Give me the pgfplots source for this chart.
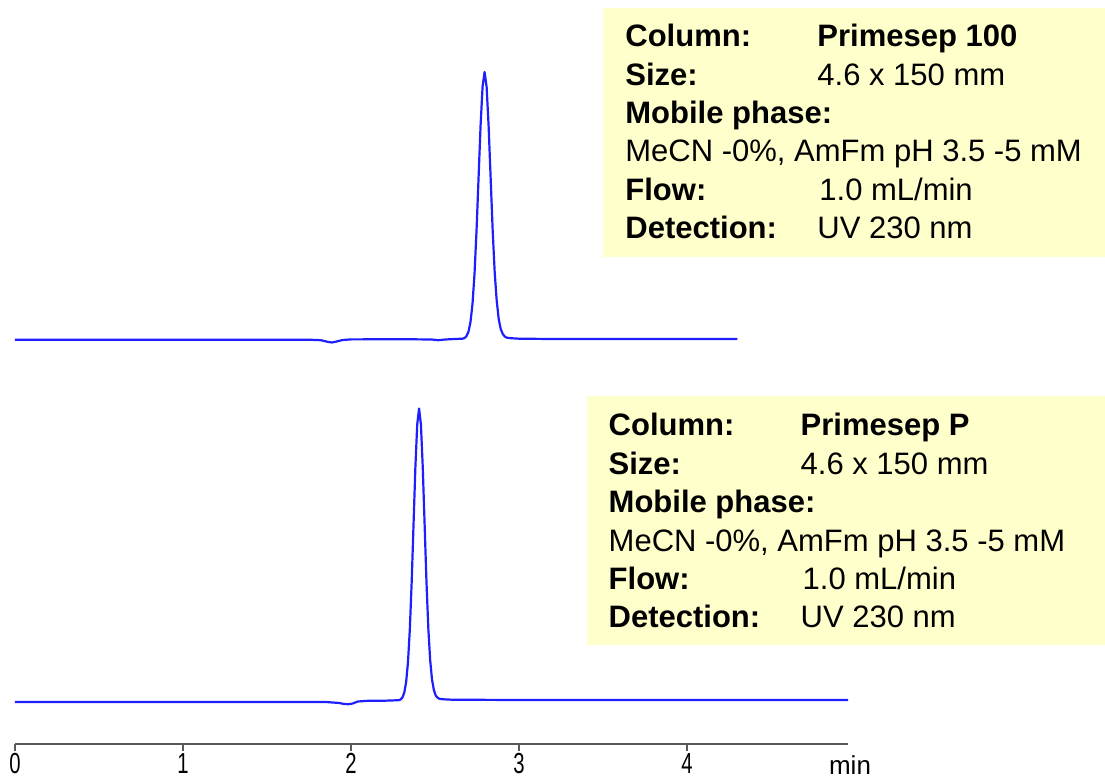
\documentclass[border=0pt]{standalone}
\usepackage{pgfplots}
\pgfplotsset{compat=1.18}
\usepackage{fontspec}
\setmainfont{Liberation Sans}
\definecolor{trace}{RGB}{30,30,255}
\definecolor{boxfill}{RGB}{255,255,204}
\definecolor{axgray}{RGB}{90,90,90}
\newcommand{\boxfont}{\fontsize{15.5}{19.2}\selectfont}
\begin{document}
\begin{tikzpicture}[x=1pt,y=1pt]
\path[use as bounding box] (0,0) rectangle (552.5,389);
% info boxes
\fill[boxfill] (301.65,260.5) rectangle (552.5,384.85);
\fill[boxfill] (293.35,66.5) rectangle (552.5,191);
% top box text
\begin{scope}[every node/.style={anchor=base west, inner sep=0pt, font=\boxfont}]
\node at (312.5,365.65) {\textbf{Column:}};
\node at (408.5,365.65) {\textbf{Primesep 100}};
\node at (312.5,346.45) {\textbf{Size:}};
\node at (408.5,346.45) {4.6 x 150 mm};
\node at (312.5,327.25) {\textbf{Mobile phase:}};
\node at (312.5,308.05) {MeCN -0\%, AmFm pH 3.5 -5 mM};
\node at (312.5,288.85) {\textbf{Flow:}};
\node at (409.5,288.85) {1.0 mL/min};
\node at (312.5,269.65) {\textbf{Detection:}};
\node at (408.5,269.65) {UV 230 nm};
% bottom box text
\node at (304.15,171) {\textbf{Column:}};
\node at (400.15,171) {\textbf{Primesep P}};
\node at (304.15,151.8) {\textbf{Size:}};
\node at (400.15,151.8) {4.6 x 150 mm};
\node at (304.15,132.6) {\textbf{Mobile phase:}};
\node at (304.15,113.4) {MeCN -0\%, AmFm pH 3.5 -5 mM};
\node at (304.15,94.2) {\textbf{Flow:}};
\node at (401.15,94.2) {1.0 mL/min};
\node at (304.15,75.0) {\textbf{Detection:}};
\node at (400.15,75.0) {UV 230 nm};
\end{scope}
\begin{axis}[
  at={(7.5pt,17pt)}, anchor=south west,
  scale only axis, width=416.5pt, height=372pt,
  xmin=0, xmax=4.958, ymin=0, ymax=744,
  clip=false,
  axis x line=bottom, axis y line=none,
  axis line style={-, draw=axgray, line width=1.3pt},
  xtick={0,1,2,3,4}, xticklabels={0,1,2,3,4},
  tick align=outside, major tick length=3.5pt,
  tick style={draw=axgray, line width=0.6pt},
  xticklabel style={font=\fontsize{14.5}{14.5}\selectfont, xscale=0.7, anchor=base, yshift=-11.0pt, inner sep=0pt},
  ytick=\empty,
]
\addplot[trace, line width=1.1pt, line join=round] coordinates {
(0,404.3) (0.5,404.3) (1.0,404.3) (1.5,404.3) (1.75,404.3) (1.82,403.8) (1.86,402.2) (1.885,401.5) (1.91,402.3) (1.95,404) (2.0,404.6) (2.3,404.8) (2.48,404.5) (2.52,403.8) (2.56,404.5) (2.62,405)
(2.663,405.3) (2.675,405.9) (2.687,407.8) (2.699,412.2) (2.711,421.8) (2.723,440.0) (2.735,470.1) (2.747,513.2) (2.759,565.7) (2.771,618.0) (2.783,657.3) (2.795,672)
(2.807,657.3) (2.819,618.0) (2.831,566.0) (2.843,514.0) (2.855,472.0) (2.867,443.5) (2.879,425.0) (2.891,415.0) (2.903,410.0) (2.915,407.5) (2.927,406.3)
(2.95,405.8) (3.0,405.3) (3.2,405) (3.6,405) (4.0,405) (4.30,405)
};
\addplot[trace, line width=1.1pt, line join=round] coordinates {
(0,42) (0.5,42) (1.0,42) (1.5,42) (1.85,42) (1.93,41) (1.96,40) (1.985,39.8) (2.01,40.5) (2.04,42.5) (2.1,43.2) (2.2,43.3)
(2.284,43.8) (2.295,44.5) (2.306,46.5) (2.317,51.4) (2.328,61.9) (2.339,81.8) (2.350,114.7) (2.361,161.8) (2.372,219.2) (2.383,276.5) (2.394,319.5) (2.405,335.5)
(2.416,319.5) (2.427,276.7) (2.438,219.7) (2.449,162.5) (2.460,116.0) (2.471,84.0) (2.482,64.5) (2.493,54.0) (2.504,48.5) (2.515,46.3) (2.526,45.2)
(2.55,44.7) (2.6,44.3) (3.0,44) (4.0,44) (4.958,44)
};
\node[anchor=base, inner sep=0pt, font=\fontsize{13}{13}\selectfont] at (axis cs:4.97,0) [yshift=-15.4pt] {min};
\end{axis}
\end{tikzpicture}
\end{document}
